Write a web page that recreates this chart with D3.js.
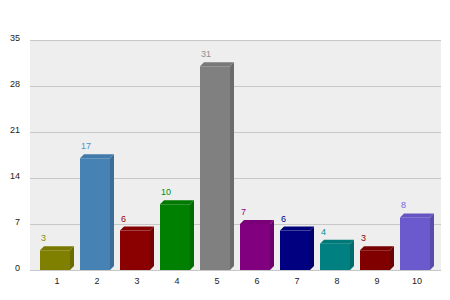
<!DOCTYPE html>
<html>
<head>
<meta charset="utf-8">
<script src="https://cdn.jsdelivr.net/npm/d3@7"></script>
<style>
  html, body { margin: 0; padding: 0; background: #ffffff; }
  svg { display: block; font-family: "Liberation Sans", Arial, sans-serif; }
</style>
</head>
<body>
<svg id="chart" width="450" height="300"></svg>
<script>
// Chart data
const categories = ["1", "2", "3", "4", "5", "6", "7", "8", "9", "10"];
const values = [3, 17, 6, 10, 31, 7, 6, 4, 3, 8];
const barColors = ["#808000", "#4682b4", "#8b0000", "#008000", "#808080",
                   "#800080", "#000080", "#008080", "#800000", "#6a5acd"];
const yTicks = [0, 7, 14, 21, 28, 35];

const svg = d3.select("#chart");
const plot = { left: 30, right: 441, top: 40, bottom: 270 };
const depth = 4;

const x = d3.scaleBand()
  .domain(categories)
  .range([35, 435])
  .paddingInner(0.25)
  .paddingOuter(0.125);

const y = d3.scaleLinear()
  .domain([0, 35])
  .range([plot.bottom, plot.top]);

// Plot background
svg.append("rect")
  .attr("x", plot.left)
  .attr("y", plot.top)
  .attr("width", plot.right - plot.left)
  .attr("height", plot.bottom - plot.top)
  .attr("fill", "#eeeeee");

// Horizontal grid lines
svg.append("g")
  .selectAll("line")
  .data(yTicks)
  .join("line")
  .attr("x1", plot.left)
  .attr("x2", plot.right)
  .attr("y1", d => Math.round(y(d)) + 0.5)
  .attr("y2", d => Math.round(y(d)) + 0.5)
  .attr("stroke", "#c8c8c8")
  .attr("stroke-width", 1);

// Y tick labels (baseline sits on the grid line)
svg.append("g")
  .selectAll("text")
  .data(yTicks)
  .join("text")
  .attr("x", 20)
  .attr("y", d => Math.round(y(d)) + 1)
  .attr("text-anchor", "end")
  .attr("font-size", 9)
  .attr("fill", "#222")
  .text(d => d);

// 3D bars: front, top face, side face
const bars = svg.append("g")
  .selectAll("g")
  .data(categories.map((c, i) => ({ c, v: values[i], color: barColors[i] })))
  .join("g");

bars.append("rect")
  .attr("x", d => x(d.c))
  .attr("y", d => y(d.v))
  .attr("width", x.bandwidth())
  .attr("height", d => plot.bottom - y(d.v))
  .attr("fill", d => d.color);

bars.append("path")
  .attr("d", d => {
    const x0 = x(d.c), x1 = x0 + x.bandwidth(), yt = y(d.v);
    return `M${x0},${yt}L${x0 + depth},${yt - depth}L${x1 + depth},${yt - depth}L${x1},${yt}Z`;
  })
  .attr("fill", d => d3.color(d.color).darker(0.15));

bars.append("path")
  .attr("d", d => {
    const x1 = x(d.c) + x.bandwidth(), yt = y(d.v);
    return `M${x1},${yt}L${x1 + depth},${yt - depth}L${x1 + depth},${plot.bottom - depth}L${x1},${plot.bottom}Z`;
  })
  .attr("fill", d => d3.color(d.color).darker(0.5));

// Value labels above each bar
bars.append("text")
  .attr("x", d => x(d.c) + 1)
  .attr("y", d => y(d.v) - 9)
  .attr("font-size", 9)
  .attr("fill", d => d3.color(d.color).brighter(0.3))
  .text(d => d.v);

// X category labels
svg.append("g")
  .selectAll("text")
  .data(categories)
  .join("text")
  .attr("x", d => x(d) + (x.bandwidth() + depth) / 2)
  .attr("y", 284)
  .attr("text-anchor", "middle")
  .attr("font-size", 9)
  .attr("fill", "#222")
  .text(d => d);
</script>
</body>
</html>
